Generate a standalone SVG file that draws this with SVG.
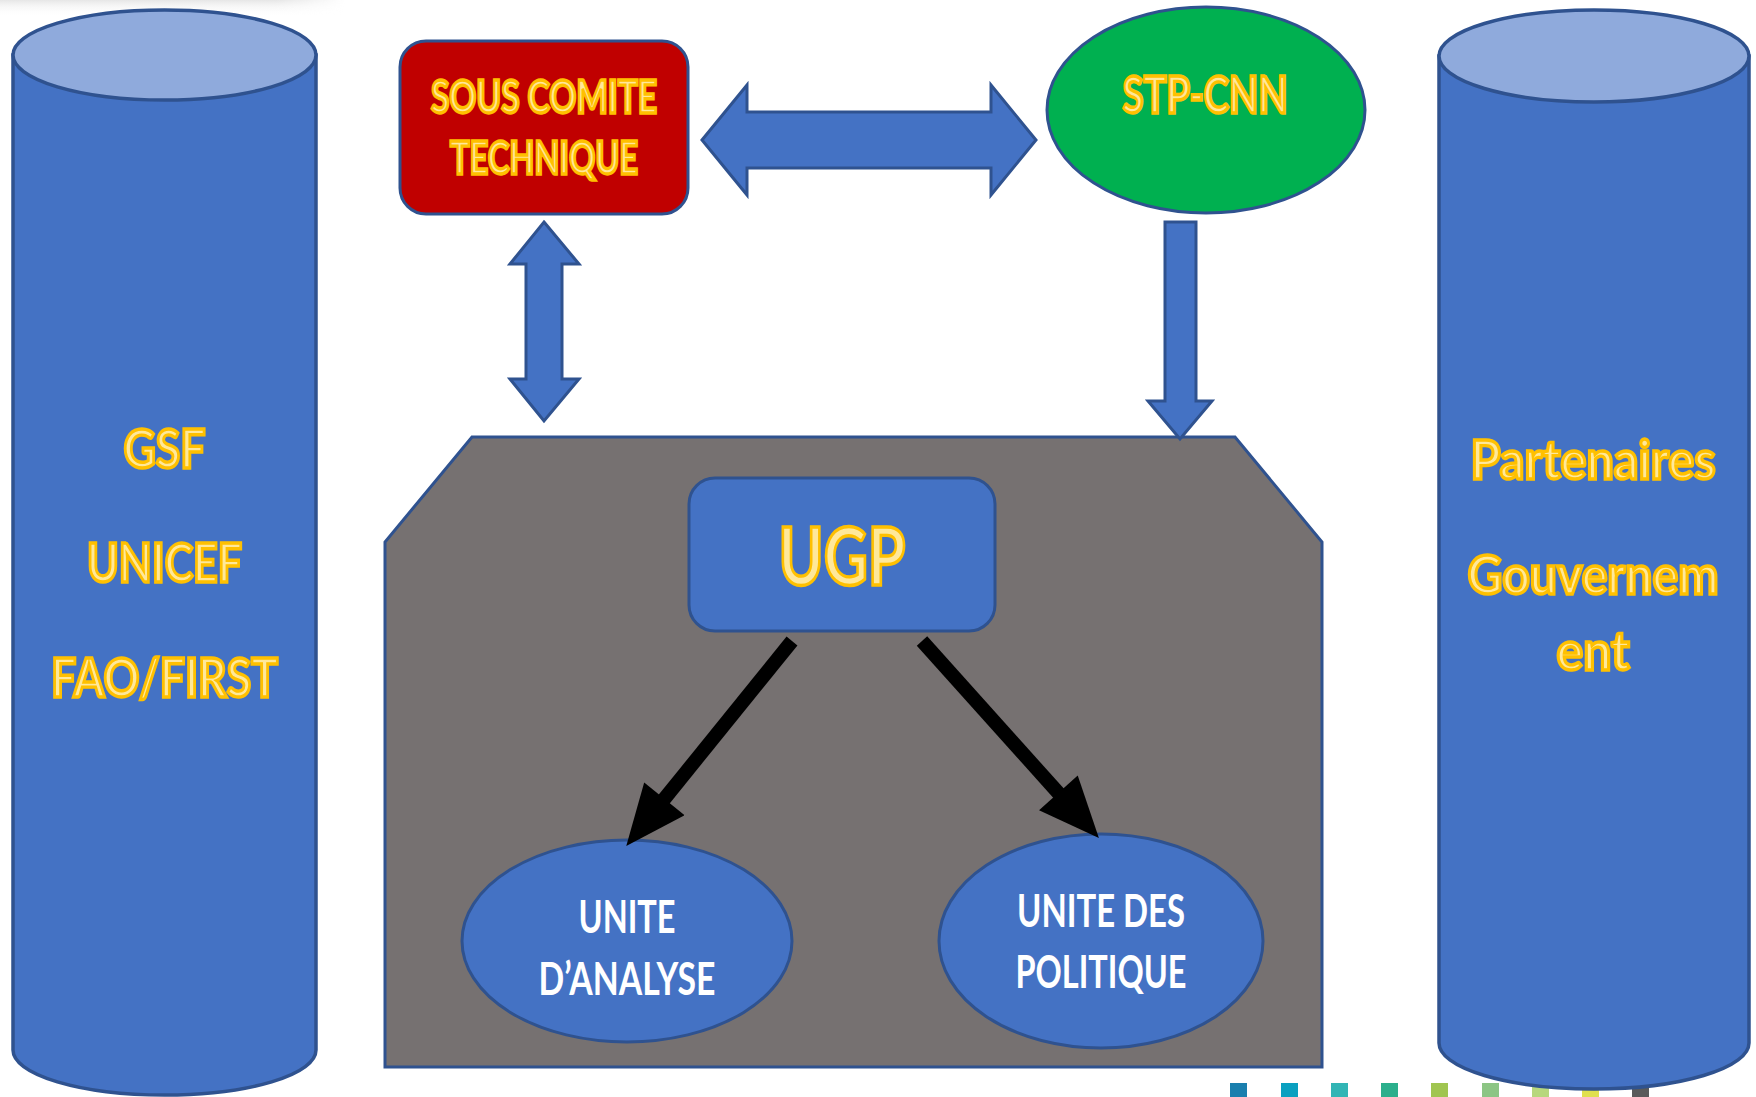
<svg xmlns="http://www.w3.org/2000/svg" width="1756" height="1097" viewBox="0 0 1756 1097">
<defs>
<style>
.body{fill:#4472C4;stroke:#2F528F;stroke-width:3.5}
.top{fill:#8FAADC;stroke:#2F528F;stroke-width:3.5}
.blue{fill:#4472C4;stroke:#2F528F;stroke-width:3}
.gold{font-family:Lato,"Open Sans","Liberation Sans",sans-serif;font-weight:bold;fill:#FFE89A;stroke:#FFC000;stroke-width:3.4;text-anchor:middle}
.white{font-family:Lato,"Open Sans","Liberation Sans",sans-serif;font-weight:bold;fill:#FFFFFF;text-anchor:middle}
.blk{stroke:#000;stroke-width:14;fill:none}
</style>
<linearGradient id="shade" x1="0" y1="0" x2="0" y2="1">
<stop offset="0" stop-color="#E6E6E6"/>
<stop offset="1" stop-color="#FFFFFF" stop-opacity="0"/>
</linearGradient>
<linearGradient id="shadeh" x1="0" y1="0" x2="1" y2="0">
<stop offset="0" stop-color="#FFFFFF" stop-opacity="1"/>
<stop offset="0.8" stop-color="#FFFFFF" stop-opacity="1"/>
<stop offset="1" stop-color="#FFFFFF" stop-opacity="0"/>
</linearGradient>
<mask id="fadem"><rect x="0" y="0" width="345" height="16" fill="url(#shadeh)"/></mask>
<marker id="ah" markerUnits="userSpaceOnUse" markerWidth="62" markerHeight="52" viewBox="0 0 56 48" refX="5" refY="24" orient="auto">
<path d="M0,0 L56,24 L0,48 Z" fill="#000"/>
</marker>
</defs>
<rect x="0" y="0" width="1756" height="1097" fill="#FFFFFF"/>
<rect x="0" y="0" width="345" height="16" fill="url(#shade)" mask="url(#fadem)"/>

<g id="footer-squares">
<rect x="1230" y="1083" width="17" height="14" fill="#1A7FAE"/>
<rect x="1281" y="1083" width="17" height="14" fill="#0AA0C0"/>
<rect x="1331" y="1083" width="17" height="14" fill="#31B5B5"/>
<rect x="1381" y="1083" width="17" height="14" fill="#2BAF8C"/>
<rect x="1431" y="1083" width="17" height="14" fill="#A0C550"/>
<rect x="1482" y="1083" width="17" height="14" fill="#8CC584"/>
<rect x="1532" y="1083" width="17" height="14" fill="#B7D77D"/>
<rect x="1582" y="1083" width="17" height="14" fill="#E0E04E"/>
<rect x="1632" y="1083" width="17" height="14" fill="#5A5A5A"/>
</g>

<g id="cyl-left">
<path class="body" d="M13,55 V1050 A151.5,45 0 0 0 316,1050 V55 Z"/>
<ellipse class="top" cx="164.5" cy="55" rx="151.5" ry="45"/>
<text class="gold" x="164.5" y="468" font-size="54" textLength="82" lengthAdjust="spacingAndGlyphs">GSF</text>
<text class="gold" x="164.5" y="582" font-size="54" textLength="155" lengthAdjust="spacingAndGlyphs">UNICEF</text>
<text class="gold" x="164.5" y="697" font-size="54" textLength="227" lengthAdjust="spacingAndGlyphs">FAO/FIRST</text>
</g>

<g id="cyl-right">
<path class="body" d="M1439,56 V1043 A155,46 0 0 0 1749,1043 V56 Z"/>
<ellipse class="top" cx="1594" cy="56" rx="155" ry="46"/>
<text class="gold" x="1593" y="479" font-size="54" textLength="245" lengthAdjust="spacingAndGlyphs">Partenaires</text>
<text class="gold" x="1593" y="594" font-size="54" textLength="251" lengthAdjust="spacingAndGlyphs">Gouvernem</text>
<text class="gold" x="1593" y="670" font-size="54" textLength="73" lengthAdjust="spacingAndGlyphs">ent</text>
</g>

<g id="sous-comite">
<rect x="400" y="41" width="288" height="173" rx="26" fill="#C00000" stroke="#2F528F" stroke-width="3"/>
<text class="gold" x="544" y="113" font-size="46" textLength="226" lengthAdjust="spacingAndGlyphs">SOUS COMITE</text>
<text class="gold" x="544" y="174" font-size="46" textLength="188" lengthAdjust="spacingAndGlyphs">TECHNIQUE</text>
</g>

<g id="stp-cnn">
<ellipse cx="1206" cy="110" rx="159" ry="103" fill="#00B050" stroke="#2F528F" stroke-width="3"/>
<text class="gold" x="1205" y="113" font-size="52" textLength="165" lengthAdjust="spacingAndGlyphs">STP-CNN</text>
</g>

<g id="ugp-zone">
<path d="M472,437 L1235,437 L1322,542 L1322,1067 L385,1067 L385,542 Z" fill="#767171" stroke="#2F528F" stroke-width="3"/>
</g>

<g id="ugp">
<rect x="689" y="478" width="306" height="153" rx="26" class="blue"/>
<text class="gold" x="842" y="585" font-size="80" textLength="127" lengthAdjust="spacingAndGlyphs">UGP</text>
</g>

<g id="unite-analyse">
<ellipse cx="627" cy="941" rx="165" ry="101" class="blue"/>
<text class="white" x="627" y="933" font-size="45" textLength="97" lengthAdjust="spacingAndGlyphs">UNITE</text>
<text class="white" x="627" y="995" font-size="45" textLength="177" lengthAdjust="spacingAndGlyphs">D’ANALYSE</text>
</g>

<g id="unite-politique">
<ellipse cx="1101" cy="941" rx="162" ry="107" class="blue"/>
<text class="white" x="1101" y="927" font-size="45" textLength="168" lengthAdjust="spacingAndGlyphs">UNITE DES</text>
<text class="white" x="1101" y="988" font-size="45" textLength="171" lengthAdjust="spacingAndGlyphs">POLITIQUE</text>
</g>

<g id="connectors">
<path class="blue" d="M702,140 L747,85 L747,112 L991,112 L991,85 L1036,140 L991,195 L991,168 L747,168 L747,195 Z"/>
<path class="blue" d="M544,222 L579,264 L562,264 L562,379 L579,379 L544,421 L510,379 L526,379 L526,264 L510,264 Z"/>
<path class="blue" d="M1165,222 L1196,222 L1196,401 L1212,401 L1180,439 L1148,401 L1165,401 Z"/>
<line class="blk" x1="792" y1="641" x2="661" y2="803" marker-end="url(#ah)"/>
<line class="blk" x1="922" y1="641" x2="1062" y2="797" marker-end="url(#ah)"/>
</g>
</svg>
